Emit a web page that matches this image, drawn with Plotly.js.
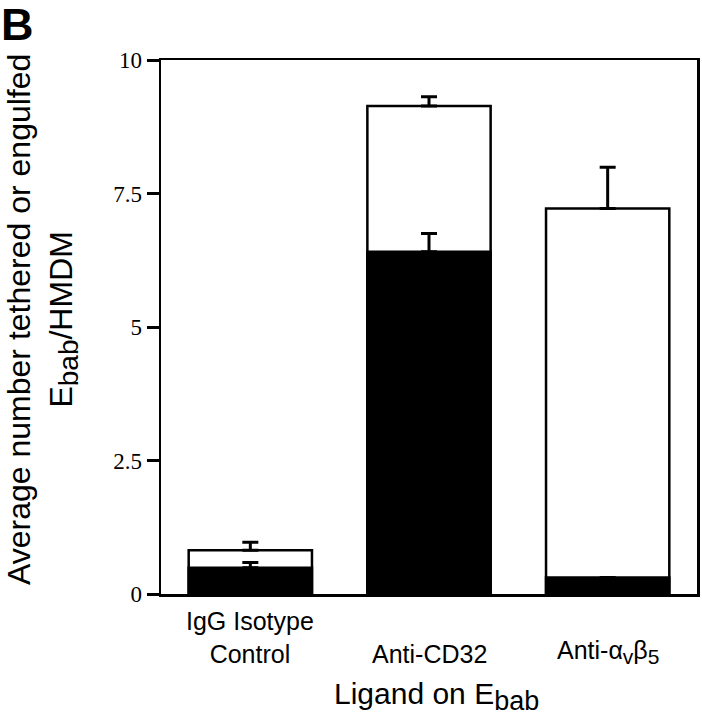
<!DOCTYPE html>
<html>
<head>
<meta charset="utf-8">
<script src="https://cdn.plot.ly/plotly-3.0.1.min.js"></script>
<style>html,body{margin:0;padding:0;background:#fff;}#chart{width:702px;height:720px;}</style>
</head>
<body>
<div id="chart"></div>
<script>
const categories = ["IgG Isotype<br>Control", "Anti-CD32", "Anti-α<sub><span style=\"font-size:21px\">v</span></sub>β<sub><span style=\"font-size:21px\">5</span></sub>"];
const totalValues = [0.82, 9.14, 7.22];
const totalErrors = [0.15, 0.17, 0.77];
const engulfedValues = [0.49, 6.41, 0.31];
const engulfedErrors = [0.10, 0.34, 0];
const yTickVals = [0, 2.5, 5, 7.5, 10];
const yTickText = ["0", "2.5", "5", "7.5", "10"];

const xIdx = categories.map((_, i) => i);

const traces = [
  {
    type: "bar", x: xIdx, y: totalValues, width: 0.69,
    marker: {color: "#ffffff", line: {color: "#000", width: 2.5}},
    error_y: {type: "data", array: totalErrors, arrayminus: totalValues.map(() => 0), symmetric: false,
              visible: true, color: "#000", thickness: 3, width: 8},
    hoverinfo: "none", showlegend: false
  },
  {
    type: "bar", x: xIdx, y: engulfedValues, width: 0.69,
    marker: {color: "#000000", line: {color: "#000", width: 2.5}},
    error_y: {type: "data", array: engulfedErrors, arrayminus: engulfedValues.map(() => 0), symmetric: false,
              visible: true, color: "#000", thickness: 3, width: 8},
    hoverinfo: "none", showlegend: false
  }
];

const PL = 161, PT = 60, PW = 536, PH = 534;
const px2x = (px) => (px - PL) / PW;
const py2y = (py) => (PT + PH - py) / PH;

const sans = "Liberation Sans, Arial, sans-serif";

const catAnnotations = categories.map((label, i) => ({
  text: label, xref: "x", yref: "paper", x: i, y: py2y(670),
  xanchor: "center", yanchor: "bottom", showarrow: false, align: "center",
  font: {family: sans, size: 25, color: "#000"}
}));

const layout = {
  width: 702, height: 720,
  margin: {l: PL, r: 702 - PL - PW, t: PT, b: 720 - PT - PH},
  paper_bgcolor: "#fff", plot_bgcolor: "#fff",
  barmode: "overlay",
  showlegend: false,
  xaxis: {
    range: [-0.5, 2.5], tickvals: xIdx, ticktext: categories, showticklabels: false,
    showline: true, mirror: true, linecolor: "#000", linewidth: 2.5,
    ticks: "", showgrid: false, zeroline: false, fixedrange: true
  },
  yaxis: {
    range: [0, 10], tickvals: yTickVals, ticktext: yTickText,
    showline: true, mirror: true, linecolor: "#000", linewidth: 2.5,
    ticks: "outside", ticklen: 12, tickwidth: 3, tickcolor: "#000",
    showgrid: false, zeroline: false,
    tickfont: {family: "Liberation Serif, Times New Roman, serif", size: 23, color: "#000"},
    fixedrange: true
  },
  annotations: catAnnotations.concat([
    {text: "<b>B</b>", xref: "paper", yref: "paper", x: px2x(0), y: py2y(-2), xanchor: "left", yanchor: "top",
     showarrow: false, borderpad: 0, font: {family: sans, size: 45, color: "#000"}},
    {text: "Average number tethered or engulfed<br>E<sub><span style=\"font-size:28px\">bab</span></sub>/HMDM", xref: "paper", yref: "paper",
     x: px2x(42), y: py2y(320), xanchor: "center", yanchor: "middle", textangle: -90,
     showarrow: false, font: {family: sans, size: 32, color: "#000"}},
    {text: "Ligand on E<sub><span style=\"font-size:27px\">bab</span></sub>", xref: "paper", yref: "paper",
     x: px2x(436), y: py2y(696), xanchor: "center", yanchor: "middle",
     showarrow: false, font: {family: sans, size: 30, color: "#000"}}
  ])
};

Plotly.newPlot("chart", traces, layout, {displayModeBar: false, staticPlot: true});
</script>
</body>
</html>
